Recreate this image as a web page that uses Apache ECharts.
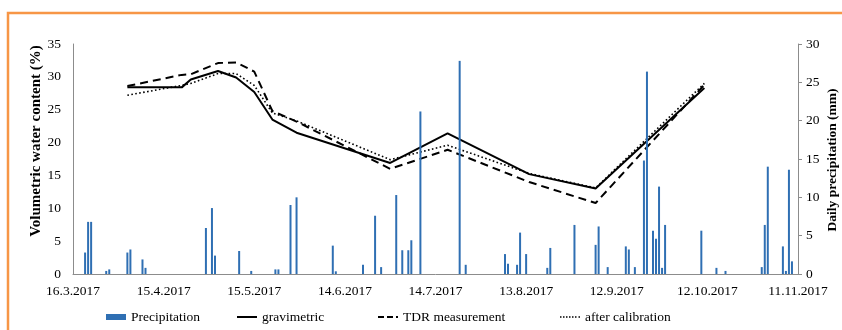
<!DOCTYPE html>
<html>
<head>
<meta charset="utf-8">
<script src="https://cdn.jsdelivr.net/npm/echarts@6/dist/echarts.min.js"></script>
<style>
html,body{margin:0;padding:0;background:#fff;}
#chart{width:842px;height:330px;}
</style>
</head>
<body>
<div id="chart"></div>
<script>
// ---- Data ----
const startDate = '2017-03-16';
const xTickLabels = ['16.3.2017','15.4.2017','15.5.2017','14.6.2017','14.7.2017','13.8.2017','12.9.2017','12.10.2017','11.11.2017'];

const precipDates = [
  '2017-03-20','2017-03-21','2017-03-22','2017-03-27','2017-03-28','2017-04-03','2017-04-04','2017-04-08','2017-04-09',
  '2017-04-29','2017-05-01','2017-05-02','2017-05-10','2017-05-14','2017-05-22','2017-05-23','2017-05-27','2017-05-29',
  '2017-06-10','2017-06-11','2017-06-20','2017-06-24','2017-06-26','2017-07-01','2017-07-03','2017-07-05','2017-07-06',
  '2017-07-09','2017-07-22','2017-07-24','2017-08-06','2017-08-07','2017-08-10','2017-08-11','2017-08-13','2017-08-20',
  '2017-08-21','2017-08-29','2017-09-05','2017-09-06','2017-09-09','2017-09-15','2017-09-16','2017-09-18','2017-09-21',
  '2017-09-22','2017-09-24','2017-09-25','2017-09-26','2017-09-27','2017-09-28','2017-10-10','2017-10-15','2017-10-18',
  '2017-10-30','2017-10-31','2017-11-01','2017-11-06','2017-11-07','2017-11-08','2017-11-09'
];
const precipValues = [
  2.8, 6.8, 6.8, 0.4, 0.6, 2.8, 3.2, 1.9, 0.8,
  6.0, 8.6, 2.4, 3.0, 0.4, 0.6, 0.6, 9.0, 10.0,
  3.7, 0.35, 1.2, 7.6, 0.9, 10.3, 3.1, 3.1, 4.4,
  21.2, 27.8, 1.2, 2.6, 1.35, 1.2, 5.4, 2.6, 0.8,
  3.4, 6.4, 3.8, 6.2, 0.9, 3.6, 3.2, 0.9, 14.8,
  26.4, 5.65, 4.6, 11.4, 0.8, 6.4, 5.65, 0.8, 0.4,
  0.9, 6.4, 14.0, 3.6, 0.4, 13.6, 1.65
];

const measDates = ['2017-04-03','2017-04-21','2017-04-24','2017-05-03','2017-05-09','2017-05-15','2017-05-21','2017-05-29','2017-06-29','2017-07-18','2017-08-14','2017-09-05','2017-10-11'];
const gravimetric = [28.4, 28.4, 29.6, 30.9, 29.9, 27.7, 23.5, 21.5, 16.9, 21.4, 15.2, 13.0, 28.3];
const tdrMeasurement = [28.6, 30.3, 30.4, 32.1, 32.2, 30.8, 24.8, 23.2, 16.0, 18.9, 14.0, 10.8, 28.8];
const afterCalibration = [27.2, 28.7, 29.0, 30.5, 30.5, 28.7, 24.5, 23.3, 17.4, 19.6, 15.3, 13.1, 29.0];

// ---- helpers ----
function dayOf(s){
  const a = s.split('-').map(Number), b = startDate.split('-').map(Number);
  return Math.round((Date.UTC(a[0],a[1]-1,a[2]) - Date.UTC(b[0],b[1]-1,b[2]))/86400000);
}
const pair = (dates, vals) => dates.map((d,i)=>[dayOf(d), vals[i]]);

const FONT = 'Liberation Serif';
const BAR_COLOR = '#2f6fb3';
const chart = echarts.init(document.getElementById('chart'));
const legendBase = {
  top: 310, padding: 0, itemWidth: 20, selectedMode: false,
  textStyle: {fontFamily: FONT, fontSize: 13.5, color: '#000'}
};
// legend icon shapes (20 units wide)
const iconSolid = 'path://M0,0h20v2h-20z';
const iconDashed = 'path://M0,0h6v2h-6z M9,0h6v2h-6z M18,0h2v2h-2z';
const iconDotted = 'path://M0,0h1.5v1.5h-1.5z M3,0h1.5v1.5h-1.5z M6,0h1.5v1.5h-1.5z M9,0h1.5v1.5h-1.5z M12,0h1.5v1.5h-1.5z M15,0h1.5v1.5h-1.5z M18.5,0h1.5v1.5h-1.5z';

chart.setOption({
  animation: false,
  grid: {left: 73, right: 44, top: 44, bottom: 56},
  xAxis: {
    type: 'value', min: 0, max: 240, interval: 30,
    axisLine: {lineStyle: {color: '#8c8c8c', width: 1}},
    axisTick: {show: false},
    splitLine: {show: false},
    axisLabel: {
      fontFamily: FONT, fontSize: 13.5, color: '#000', margin: 10,
      formatter: v => xTickLabels[Math.round(v/30)] || ''
    }
  },
  yAxis: [
    {
      type: 'value', min: 0, max: 35, interval: 5,
      axisLine: {show: true, lineStyle: {color: '#8c8c8c'}},
      axisTick: {show: false},
      splitLine: {show: false},
      axisLabel: {fontFamily: FONT, fontSize: 13.5, color: '#000', margin: 12}
    },
    {
      type: 'value', min: 0, max: 30, interval: 5, position: 'right',
      axisLine: {show: true, lineStyle: {color: '#8c8c8c'}},
      axisTick: {show: true, length: 4, lineStyle: {color: '#8c8c8c'}},
      splitLine: {show: false},
      axisLabel: {fontFamily: FONT, fontSize: 13.5, color: '#000', margin: 8}
    }
  ],
  legend: [
    Object.assign({}, legendBase, {left: 106, itemHeight: 6, data: [{name: 'Precipitation', icon: 'rect', itemStyle: {color: BAR_COLOR}}]}),
    Object.assign({}, legendBase, {left: 237, itemHeight: 2, data: [{name: 'gravimetric', icon: iconSolid, itemStyle: {color: '#000'}}]}),
    Object.assign({}, legendBase, {left: 378, itemHeight: 2, data: [{name: 'TDR measurement', icon: iconDashed, itemStyle: {color: '#000'}}]}),
    Object.assign({}, legendBase, {left: 560, itemHeight: 1.5, data: [{name: 'after calibration', icon: iconDotted, itemStyle: {color: '#000'}}]})
  ],
  graphic: [
    {type: 'rect', shape: {x: 8, y: 13, width: 900, height: 400}, style: {fill: 'none', stroke: '#F79646', lineWidth: 2.5}, silent: true},
    {type: 'text', x: 36, y: 141, rotation: Math.PI/2,
     style: {text: 'Volumetric water content (%)', font: 'bold 15px "Liberation Serif"', fill: '#000', textAlign: 'center', textVerticalAlign: 'middle'}},
    {type: 'text', x: 833, y: 160, rotation: Math.PI/2,
     style: {text: 'Daily precipitation (mm)', font: 'bold 13.5px "Liberation Serif"', fill: '#000', textAlign: 'center', textVerticalAlign: 'middle'}}
  ],
  series: [
    {
      name: 'Precipitation', type: 'bar', yAxisIndex: 1, barWidth: 2, z: 3,
      itemStyle: {color: BAR_COLOR},
      data: pair(precipDates, precipValues)
    },
    {
      name: 'gravimetric', type: 'line', yAxisIndex: 0, symbol: 'none', z: 2,
      lineStyle: {color: '#000', width: 2},
      itemStyle: {color: '#000'},
      data: pair(measDates, gravimetric)
    },
    {
      name: 'TDR measurement', type: 'line', yAxisIndex: 0, symbol: 'none', z: 2,
      lineStyle: {color: '#000', width: 2, type: [8, 5]},
      itemStyle: {color: '#000'},
      data: pair(measDates, tdrMeasurement)
    },
    {
      name: 'after calibration', type: 'line', yAxisIndex: 0, symbol: 'none', z: 2,
      lineStyle: {color: '#000', width: 1.6, type: [1.6, 2.4]},
      itemStyle: {color: '#000'},
      data: pair(measDates, afterCalibration)
    }
  ]
});
</script>
</body>
</html>
